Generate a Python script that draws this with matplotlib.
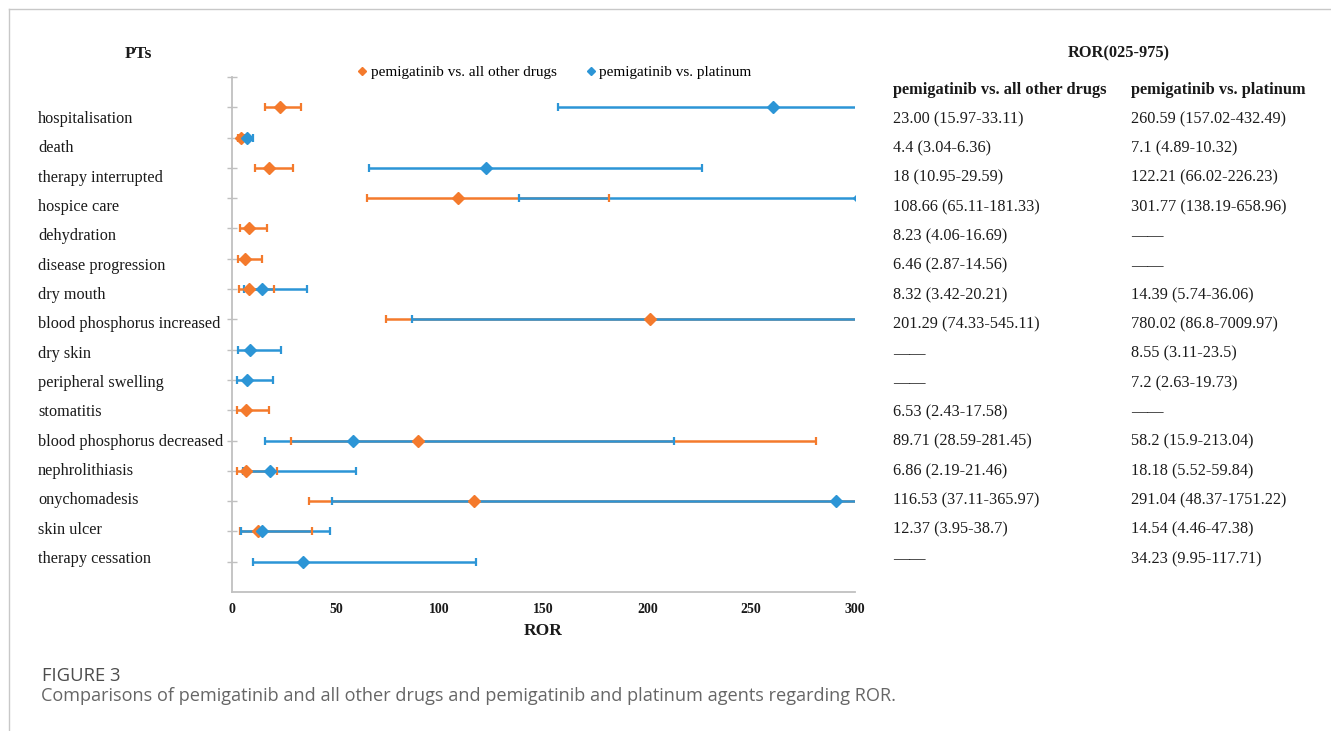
import numpy as np
import matplotlib
matplotlib.use("Agg")
import matplotlib.pyplot as plt
from matplotlib.lines import Line2D

# data
pts = ['hospitalisation', 'death', 'therapy interrupted', 'hospice care',
       'dehydration', 'disease progression', 'dry mouth',
       'blood phosphorus increased', 'dry skin', 'peripheral swelling',
       'stomatitis', 'blood phosphorus decreased', 'nephrolithiasis',
       'onychomadesis', 'skin ulcer', 'therapy cessation']
nan = np.nan
ror_all = [23.00, 4.4, 18, 108.66, 8.23, 6.46, 8.32, 201.29, nan, nan,
           6.53, 89.71, 6.86, 116.53, 12.37, nan]
lo_all = [15.97, 3.04, 10.95, 65.11, 4.06, 2.87, 3.42, 74.33, nan, nan,
          2.43, 28.59, 2.19, 37.11, 3.95, nan]
hi_all = [33.11, 6.36, 29.59, 181.33, 16.69, 14.56, 20.21, 545.11, nan, nan,
          17.58, 281.45, 21.46, 365.97, 38.7, nan]
ror_pt = [260.59, 7.1, 122.21, 301.77, nan, nan, 14.39, 780.02, 8.55, 7.2,
          nan, 58.2, 18.18, 291.04, 14.54, 34.23]
lo_pt = [157.02, 4.89, 66.02, 138.19, nan, nan, 5.74, 86.8, 3.11, 2.63,
         nan, 15.9, 5.52, 48.37, 4.46, 9.95]
hi_pt = [432.49, 10.32, 226.23, 658.96, nan, nan, 36.06, 7009.97, 23.5, 19.73,
         nan, 213.04, 59.84, 1751.22, 47.38, 117.71]

txt_all = ['23.00 (15.97-33.11)', '4.4 (3.04-6.36)', '18 (10.95-29.59)',
           '108.66 (65.11-181.33)', '8.23 (4.06-16.69)', '6.46 (2.87-14.56)',
           '8.32 (3.42-20.21)', '201.29 (74.33-545.11)', '——', '——',
           '6.53 (2.43-17.58)', '89.71 (28.59-281.45)', '6.86 (2.19-21.46)',
           '116.53 (37.11-365.97)', '12.37 (3.95-38.7)', '——']
txt_pt = ['260.59 (157.02-432.49)', '7.1 (4.89-10.32)', '122.21 (66.02-226.23)',
          '301.77 (138.19-658.96)', '——', '——', '14.39 (5.74-36.06)',
          '780.02 (86.8-7009.97)', '8.55 (3.11-23.5)', '7.2 (2.63-19.73)', '——',
          '58.2 (15.9-213.04)', '18.18 (5.52-59.84)', '291.04 (48.37-1751.22)',
          '14.54 (4.46-47.38)', '34.23 (9.95-117.71)']

ORANGE = '#F47A2C'
BLUE = '#2C95D6'
W, H = 1331, 731
serif = 'Liberation Serif'
ink = '#1a1a1a'


def fx(px):
    return px / W


def fy(py):
    return 1 - py / H


fig = plt.figure(figsize=(13.31, 7.31), dpi=100)

# page frame
fig.add_artist(Line2D([fx(9), 1], [fy(9), fy(9)], color='#c8c8c8', lw=1))
fig.add_artist(Line2D([fx(9), fx(9)], [fy(9), 0], color='#c8c8c8', lw=1))

ax = fig.add_axes([fx(232), fy(592), fx(855) - fx(232), fy(77) - fy(592)])
y = np.arange(1, len(pts) + 1)

# error lines: orange first, blue over it
ax.hlines(y, lo_all, hi_all, color=ORANGE, lw=1.8, zorder=2)
ax.hlines(y, lo_pt, hi_pt, color=BLUE, lw=1.8, zorder=3)
# caps
for v in (lo_all, hi_all):
    ax.plot(v, y, ls='none', marker='|', ms=5.5, mew=1.6, color=ORANGE, zorder=4)
for v in (lo_pt, hi_pt):
    ax.plot(v, y, ls='none', marker='|', ms=5.5, mew=1.6, color=BLUE, zorder=4)
# points
ax.plot(ror_all, y, ls='none', marker='D', ms=6.5, color=ORANGE, zorder=5)
ax.plot(ror_pt, y, ls='none', marker='D', ms=6.5, color=BLUE, zorder=6)

ax.set_xlim(0, 300)
ax.set_ylim(17, 0)
ax.set_xticks(np.arange(0, 301, 50))
ax.set_yticks(np.arange(0, 17))
ax.set_yticklabels([])
for s in ('top', 'right'):
    ax.spines[s].set_visible(False)
for s in ('left', 'bottom'):
    ax.spines[s].set_color('#c0c0c0')
    ax.spines[s].set_linewidth(1.3)
ax.tick_params(axis='y', direction='inout', length=7, width=1, color='#c0c0c0')
ax.tick_params(axis='x', length=0, pad=8)
for lab in ax.get_xticklabels():
    lab.set_fontfamily(serif)
    lab.set_fontweight('bold')
    lab.set_fontsize(10)
    lab.set_color(ink)
ax.set_xlabel('ROR', fontfamily=serif, fontweight='bold', fontsize=12.5,
              color=ink, labelpad=5)

# legend
handles = [Line2D([], [], ls='none', marker='D', ms=4.5, color=ORANGE),
           Line2D([], [], ls='none', marker='D', ms=4.5, color=BLUE)]
fig.legend(handles, ['pemigatinib vs. all other drugs', 'pemigatinib vs. platinum'],
           loc='center', bbox_to_anchor=(fx(555), fy(72)), ncol=2, frameon=False,
           handlelength=0.5, handletextpad=0.3, columnspacing=2.0,
           prop={'family': serif, 'size': 11})

# left labels and right table
fig.text(fx(138), fy(54), 'PTs', ha='center', va='center', fontfamily=serif,
         fontweight='bold', fontsize=12.5, color=ink)
fig.text(fx(1119), fy(53), 'ROR(025-975)', ha='center', va='center',
         fontfamily=serif, fontweight='bold', fontsize=11.8, color=ink)
fig.text(fx(893), fy(90), 'pemigatinib vs. all other drugs', ha='left',
         va='center', fontfamily=serif, fontweight='bold', fontsize=11.8, color=ink)
fig.text(fx(1131), fy(90), 'pemigatinib vs. platinum', ha='left',
         va='center', fontfamily=serif, fontweight='bold', fontsize=11.8, color=ink)
for i, name in enumerate(pts):
    ry = fy(119 + i * 29.33)
    fig.text(fx(38), ry, name, ha='left', va='center', fontfamily=serif,
             fontsize=11.7, color=ink)
    fig.text(fx(893), ry, txt_all[i], ha='left', va='center', fontfamily=serif,
             fontsize=11.7, color=ink)
    fig.text(fx(1131), ry, txt_pt[i], ha='left', va='center', fontfamily=serif,
             fontsize=11.7, color=ink)

# caption
fig.text(fx(42), fy(681), 'FIGURE 3', ha='left', va='baseline',
         fontfamily='Open Sans', fontsize=13.3, color='#4d4d4d')
fig.text(fx(41), fy(701),
         'Comparisons of pemigatinib and all other drugs and pemigatinib and '
         'platinum agents regarding ROR.',
         ha='left', va='baseline', fontfamily='Open Sans', fontsize=13.1,
         color='#666666')

fig.savefig('out.png', dpi=100)
